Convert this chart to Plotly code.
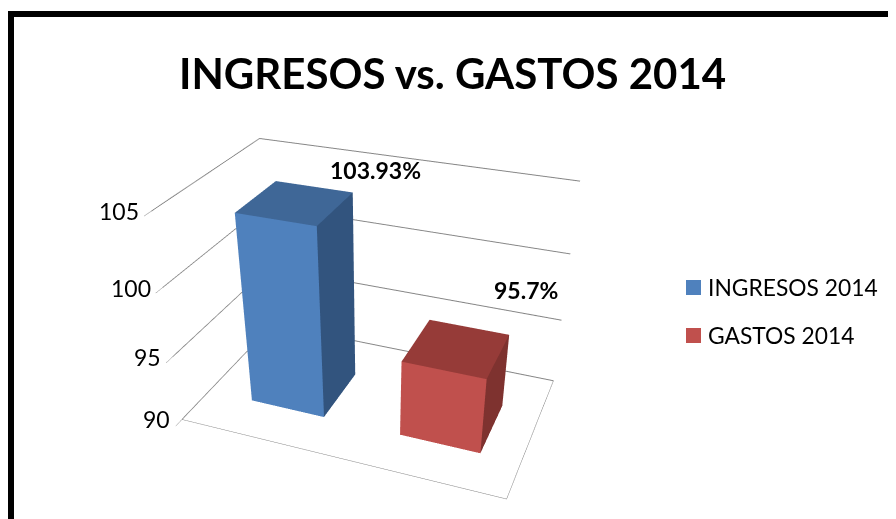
import plotly.graph_objects as go

title = "INGRESOS vs. GASTOS 2014"
series = ["INGRESOS 2014", "GASTOS 2014"]
values = [103.93, 95.7]
labels = ["103.93%", "95.7%"]
front = ["#4F81BD", "#C0504D"]
top = ["#3F6797", "#963B38"]
side = ["#32547E", "#7E322F"]
z_ticks = [90, 95, 100, 105]
base = 90

W, H = 888, 744
def px(v): return (v - 8) / W
def py(v): return 1 - (v - 8) / H

fig = go.Figure()
for n, (name, v) in enumerate(zip(series, values)):
    x0, x1 = 0.15 + n * 0.488, 0.394 + n * 0.488
    y0, y1 = 0.27, 0.68
    xs = [x0, x1, x1, x0, x0, x1, x1, x0]
    ys = [y0, y0, y0, y0, y1, y1, y1, y1]
    zs = [base, base, v, v, base, base, v, v]
    tri_i = [0, 0, 3, 3, 1, 1]
    tri_j = [1, 2, 2, 6, 5, 6]
    tri_k = [2, 3, 6, 7, 6, 2]
    cols = [front[n], front[n], top[n], top[n], side[n], side[n]]
    fig.add_trace(go.Mesh3d(x=xs, y=ys, z=zs, i=tri_i, j=tri_j, k=tri_k, facecolor=cols,
                            flatshading=True, hoverinfo="skip",
                            lighting=dict(ambient=1, diffuse=0, specular=0, roughness=1, fresnel=0)))

axis_off = dict(showgrid=False, zeroline=False, showticklabels=False, title="", ticks="",
                showbackground=False, showspikes=False, showline=True, linecolor="#868686", linewidth=1)
common = dict(xref="paper", yref="paper", showarrow=False, yanchor="middle")
tick_notes = [dict(x=0, y=0, z=t, text=str(t), showarrow=False, xanchor="right", font=dict(size=23),
                   xshift=-10, yshift=0) for t in z_ticks]
fig.update_layout(
    width=W, height=H, margin=dict(l=0, r=0, t=0, b=0), paper_bgcolor="white", showlegend=False,
    font=dict(family="Lato, Open Sans", color="black"),
    scene=dict(
        domain=dict(x=[0.0, 731 / W], y=[0.0, 1.0]),
        xaxis=dict(range=[0, 1], **axis_off),
        yaxis=dict(range=[0, 1], **axis_off),
        zaxis=dict(range=[90, 105], tickvals=z_ticks, showgrid=True, gridcolor="#868686", zeroline=False,
                   showbackground=False, showspikes=False, title="", showline=False, showticklabels=False,
                   ticks="outside", ticklen=10, tickcolor="#868686"),
        aspectmode="manual", aspectratio=dict(x=1.03, y=0.63, z=0.69),
        camera=dict(eye=dict(x=0.85, y=-2.2, z=1.3), center=dict(x=0, y=0, z=-0.27), up=dict(x=0, y=0, z=1)),
        annotations=tick_notes + [
            dict(x=0.28, y=0.70, z=values[0], text=f"<b>{labels[0]}</b>", showarrow=False, font=dict(size=23), xshift=57, yshift=16),
            dict(x=0.76, y=0.70, z=values[1], text=f"<b>{labels[1]}</b>", showarrow=False, font=dict(size=23), xshift=56, yshift=35),
        ],
    ),
    annotations=[
        dict(x=px(452), y=py(73), text=f"<b>{title}</b>", font=dict(size=42), **common),
        dict(x=px(706), y=py(287), xanchor="left", text=series[0], font=dict(size=22.8), **common),
        dict(x=px(706), y=py(335), xanchor="left", text=series[1], font=dict(size=22.8), **common),
    ],
    shapes=[
        dict(type="rect", xref="paper", yref="paper", x0=px(686), x1=px(701), y0=py(295), y1=py(280), fillcolor=front[0], line_width=0),
        dict(type="rect", xref="paper", yref="paper", x0=px(686), x1=px(701), y0=py(343), y1=py(328), fillcolor=front[1], line_width=0),
        dict(type="rect", xref="paper", yref="paper", x0=px(8), x1=px(14), y0=0, y1=py(11), fillcolor="black", line_width=0),
        dict(type="rect", xref="paper", yref="paper", x0=px(8), x1=1, y0=py(17), y1=py(11), fillcolor="black", line_width=0),
    ],
)
fig.write_html("out.html", post_script="document.documentElement.style.overflow='hidden';document.body.style.overflow='hidden';")
